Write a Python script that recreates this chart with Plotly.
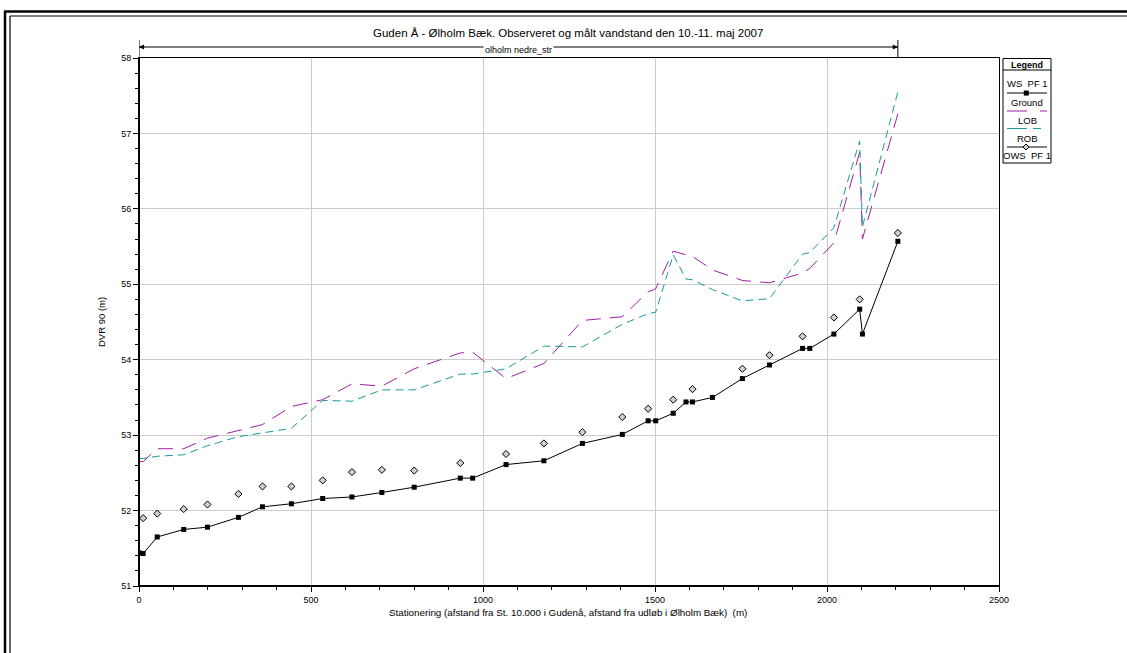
import plotly.graph_objects as go

# ---------------- data ----------------
stations = [0, 12, 53, 130, 199, 289, 359, 443, 534, 619, 706, 800, 934, 970, 1067, 1177,
            1289, 1405, 1480, 1502, 1553, 1590, 1609, 1667, 1754, 1833, 1929, 1950, 2020,
            2095, 2103, 2206]
ws_pf1 = [51.44, 51.43, 51.65, 51.75, 51.78, 51.91, 52.05, 52.09, 52.16, 52.18, 52.24, 52.31,
          52.43, 52.43, 52.61, 52.66, 52.89, 53.01, 53.19, 53.19, 53.29, 53.44, 53.44, 53.50,
          53.75, 53.93, 54.15, 54.15, 54.34, 54.67, 54.34, 55.57]
lob = [52.65, 52.65, 52.82, 52.82, 52.96, 53.06, 53.14, 53.38, 53.47, 53.68, 53.65, 53.88,
       54.09, 54.10, 53.75, 53.95, 54.52, 54.57, 54.90, 54.94, 55.44, 55.39, 55.37, 55.19,
       55.05, 55.02, 55.15, 55.21, 55.55, 56.75, 55.60, 57.26]
rob = [52.69, 52.69, 52.72, 52.74, 52.86, 52.98, 53.03, 53.09, 53.46, 53.45, 53.60, 53.60,
       53.81, 53.81, 53.88, 54.18, 54.17, 54.47, 54.61, 54.63, 55.39, 55.07, 55.06, 54.93,
       54.78, 54.81, 55.40, 55.42, 55.75, 56.90, 55.76, 57.55]
ows_stations = [12, 53, 130, 199, 289, 359, 443, 534, 619, 706, 800, 934, 1067, 1177, 1289,
                1405, 1480, 1553, 1609, 1754, 1833, 1929, 2020, 2095, 2206]
ows_pf1 = [51.90, 51.96, 52.02, 52.08, 52.22, 52.32, 52.32, 52.40, 52.51, 52.54, 52.53, 52.63,
           52.75, 52.89, 53.04, 53.24, 53.35, 53.47, 53.61, 53.88, 54.06, 54.31, 54.56, 54.80,
           55.68]
reach_start, reach_end = 0, 2206
reach_name = "olholm nedre_str"
legend_labels = ["WS  PF 1", "Ground", "LOB", "ROB", "OWS  PF 1"]

title_text = "Guden Å - Ølholm Bæk. Observeret og målt vandstand den 10.-11. maj 2007"
x_title = "Stationering (afstand fra St. 10.000 i Gudenå, afstand fra udløb i Ølholm Bæk)  (m)"
y_title = "DVR 90 (m)"

PURPLE = "#a01ea0"
TEAL = "#1a9a9a"
FONT = "Liberation Sans, Arial, sans-serif"

W, H = 1127, 653
L, R, T, B = 139, 128, 58, 67
PW, PH = W - L - R, H - T - B


def PX(px):
    return (px - L) / PW


def PY(py):
    return (H - B - py) / PH


fig = go.Figure()
fig.add_trace(go.Scatter(x=stations, y=lob, mode="lines", name="LOB",
                         line=dict(color=PURPLE, width=1, dash="15px,9px")))
fig.add_trace(go.Scatter(x=stations, y=rob, mode="lines", name="ROB",
                         line=dict(color=TEAL, width=1, dash="8px,5px")))
fig.add_trace(go.Scatter(x=stations, y=ws_pf1, mode="lines+markers", name="WS PF 1",
                         line=dict(color="black", width=1),
                         marker=dict(symbol="square", size=5, color="black")))
fig.add_trace(go.Scatter(x=ows_stations, y=ows_pf1, mode="markers", name="OWS PF 1",
                         marker=dict(symbol="diamond", size=5.5, color="#d0d0d0",
                                     line=dict(color="black", width=1))))

shapes = []
annotations = []


def ann(x, y, text, size=9, **kw):
    d = dict(x=x, y=y, xref="paper", yref="paper", text=text, showarrow=False,
             xanchor="center", yanchor="middle",
             font=dict(size=size, color="black", family=kw.pop("family", FONT)))
    d.update(kw)
    annotations.append(d)


# outer double frame
shapes += [
    dict(type="line", xref="paper", yref="paper", x0=PX(5), x1=PX(5), y0=PY(11), y1=PY(700),
         line=dict(color="black", width=2.5)),
    dict(type="line", xref="paper", yref="paper", x0=PX(10), x1=PX(10), y0=PY(16), y1=PY(700),
         line=dict(color="black", width=1.2)),
    dict(type="line", xref="paper", yref="paper", x0=PX(4), x1=PX(1200), y0=PY(11.5), y1=PY(11.5),
         line=dict(color="black", width=2.5)),
    dict(type="line", xref="paper", yref="paper", x0=PX(10), x1=PX(1200), y0=PY(16), y1=PY(16),
         line=dict(color="black", width=1.2)),
]

# thicker left and bottom axis lines
shapes += [
    dict(type="line", xref="paper", yref="paper", x0=0, x1=0, y0=0, y1=1,
         line=dict(color="black", width=2)),
    dict(type="line", xref="paper", yref="paper", x0=0, x1=1, y0=0, y1=0,
         line=dict(color="black", width=2)),
]

# reach indicator
reach_y = PY(47)
shapes += [
    dict(type="line", xref="x", yref="paper", x0=reach_start, x1=reach_end, y0=reach_y, y1=reach_y,
         line=dict(color="black", width=1)),
    dict(type="line", xref="x", yref="paper", x0=reach_start, x1=reach_start, y0=PY(40), y1=1,
         line=dict(color="black", width=1)),
    dict(type="line", xref="x", yref="paper", x0=reach_end, x1=reach_end, y0=PY(40), y1=1,
         line=dict(color="black", width=1)),
]
mid = (reach_start + reach_end) / 2
for xe in (reach_start, reach_end):
    annotations.append(dict(x=xe, y=reach_y, xref="x", yref="paper", text="", showarrow=True,
                            axref="x", ax=xe + (20 if xe == reach_start else -20),
                            ayref="pixel", ay=0, arrowhead=2, arrowsize=1, arrowwidth=1,
                            arrowcolor="black", standoff=0))
annotations.append(dict(x=mid, y=PY(50), xref="x", yref="paper", text=reach_name,
                        showarrow=False, bgcolor="white", xanchor="center", yanchor="middle",
                        font=dict(size=9, color="black", family=FONT), borderpad=1))

# title and axis titles
ann(PX(568), PY(33), title_text, size=11.5)
ann(PX(568), PY(612), x_title, size=9.8)
ann(PX(101), PY(322), y_title, size=9.5, textangle=-90)

# custom legend box
lx0, lx1, ly0, ly1 = 1003, 1051, 58.5, 163
shapes += [
    dict(type="rect", xref="paper", yref="paper", x0=PX(lx0), x1=PX(lx1), y0=PY(ly1), y1=PY(ly0),
         line=dict(color="black", width=1), fillcolor="white"),
    dict(type="line", xref="paper", yref="paper", x0=PX(lx0), x1=PX(lx1), y0=PY(70), y1=PY(70),
         line=dict(color="black", width=1)),
]
ann(PX(1027), PY(64.5), "<b>Legend</b>", size=9)
label_y = [84, 102, 120, 138, 156]
for lab, yy in zip(legend_labels, label_y):
    ann(PX(1027), PY(yy), lab, size=9.5)
# legend symbols
shapes += [
    dict(type="line", xref="paper", yref="paper", x0=PX(1007), x1=PX(1047), y0=PY(93), y1=PY(93),
         line=dict(color="black", width=1)),
    dict(type="rect", xref="paper", yref="paper", x0=PX(1024), x1=PX(1028.5), y0=PY(95.3), y1=PY(90.8),
         line=dict(color="black", width=0.5), fillcolor="black"),
    dict(type="line", xref="paper", yref="paper", x0=PX(1007), x1=PX(1047), y0=PY(111), y1=PY(111),
         line=dict(color=PURPLE, width=1, dash="20px,13px")),
    dict(type="line", xref="paper", yref="paper", x0=PX(1007), x1=PX(1047), y0=PY(128.5), y1=PY(128.5),
         line=dict(color=TEAL, width=1, dash="20px,6px,8px,20px")),
    dict(type="line", xref="paper", yref="paper", x0=PX(1007), x1=PX(1047), y0=PY(147), y1=PY(147),
         line=dict(color="black", width=1)),
    dict(type="path", xref="paper", yref="paper",
         path=f"M {PX(1026)} {PY(144)} L {PX(1029)} {PY(147)} L {PX(1026)} {PY(150)} L {PX(1023)} {PY(147)} Z",
         line=dict(color="black", width=1), fillcolor="#d0d0d0"),
]

fig.update_layout(
    width=W, height=H,
    margin=dict(l=L, r=R, t=T, b=B, pad=0),
    paper_bgcolor="white", plot_bgcolor="white",
    showlegend=False,
    font=dict(family=FONT, size=9, color="black"),
    shapes=shapes, annotations=annotations,
    xaxis=dict(range=[0, 2500], dtick=500, tick0=0, showgrid=True, gridcolor="#cccccc", gridwidth=1,
               zeroline=False, showline=True, linecolor="black", linewidth=1, mirror=True,
               ticks="outside", ticklen=5, tickcolor="black", tickwidth=1,
               tickfont=dict(size=9, family=FONT, color="black"),
               minor=dict(dtick=100, tick0=0, ticks="outside", ticklen=3, tickcolor="black", showgrid=False)),
    yaxis=dict(range=[51, 58], dtick=1, tick0=51, showgrid=True, gridcolor="#cccccc", gridwidth=1,
               zeroline=False, showline=True, linecolor="black", linewidth=1, mirror=True,
               ticks="outside", ticklen=5, tickcolor="black", tickwidth=1,
               tickfont=dict(size=9, family=FONT, color="black"),
               minor=dict(dtick=0.2, tick0=51, ticks="outside", ticklen=3, tickcolor="black", showgrid=False)),
)

fig.write_html("out.html", config={"displayModeBar": False},
               post_script="document.body.style.margin='0px';")
